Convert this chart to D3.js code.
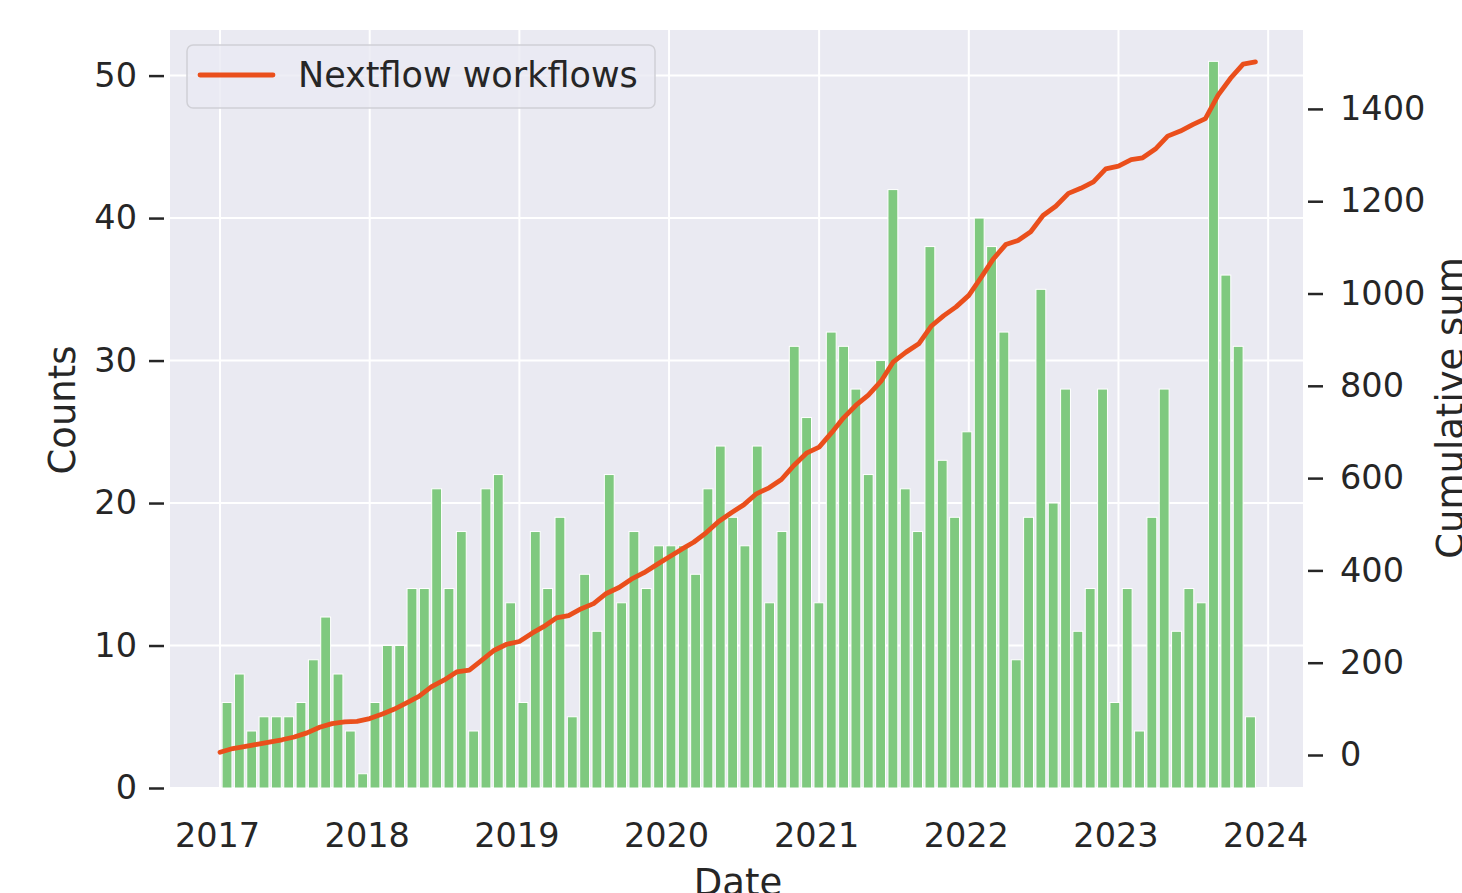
<!DOCTYPE html>
<html lang="en">
<head>
    <meta charset="UTF-8">
    <title>Nextflow workflows per month</title>
    <style>
        body {
            margin: 0;
            padding: 0;
            background-color: #ffffff;
            font-family: "DejaVu Sans", sans-serif;
        }
        .tick text {
            fill: #262626;
            font-size: 33.5px;
        }
        .tick line {
            stroke: #262626;
            stroke-width: 2.5px;
        }
        .axis-label {
            fill: #262626;
            font-size: 37px;
        }
        .grid line {
            stroke: #ffffff;
            stroke-width: 2px;
        }
    </style>
</head>
<body>
    <div id="chart"></div>

    <script src="https://d3js.org/d3.v7.min.js"></script>
    <script>
        // Monthly counts
        const months = [
            "2017-01", "2017-02", "2017-03", "2017-04", "2017-05", "2017-06", "2017-07", "2017-08", "2017-09", "2017-10", "2017-11", "2017-12",
            "2018-01", "2018-02", "2018-03", "2018-04", "2018-05", "2018-06", "2018-07", "2018-08", "2018-09", "2018-10", "2018-11", "2018-12",
            "2019-01", "2019-02", "2019-03", "2019-04", "2019-05", "2019-06", "2019-07", "2019-08", "2019-09", "2019-10", "2019-11", "2019-12",
            "2020-01", "2020-02", "2020-03", "2020-04", "2020-05", "2020-06", "2020-07", "2020-08", "2020-09", "2020-10", "2020-11", "2020-12",
            "2021-01", "2021-02", "2021-03", "2021-04", "2021-05", "2021-06", "2021-07", "2021-08", "2021-09", "2021-10", "2021-11", "2021-12",
            "2022-01", "2022-02", "2022-03", "2022-04", "2022-05", "2022-06", "2022-07", "2022-08", "2022-09", "2022-10", "2022-11", "2022-12",
            "2023-01", "2023-02", "2023-03", "2023-04", "2023-05", "2023-06", "2023-07", "2023-08", "2023-09", "2023-10", "2023-11", "2023-12"
        ];

        const counts = [
            6, 8, 4, 5, 5, 5, 6, 9, 12, 8, 4, 1,
            6, 10, 10, 14, 14, 21, 14, 18, 4, 21, 22, 13,
            6, 18, 14, 19, 5, 15, 11, 22, 13, 18, 14, 17,
            17, 17, 15, 21, 24, 19, 17, 24, 13, 18, 31, 26,
            13, 32, 31, 28, 22, 30, 42, 21, 18, 38, 23, 19,
            25, 40, 38, 32, 9, 19, 35, 20, 28, 11, 14, 28,
            6, 14, 4, 19, 28, 11, 14, 13, 51, 36, 31, 5
        ];

        // Cumulative sum line (right axis)
        const cumulative = [
            6, 14, 18, 23, 28, 33, 39, 48, 60, 68, 72, 73,
            79, 89, 99, 113, 127, 148, 162, 180, 184, 205, 227, 240,
            246, 264, 278, 297, 302, 317, 328, 350, 363, 381, 395, 412,
            429, 446, 461, 482, 506, 525, 542, 566, 579, 597, 628, 654,
            667, 699, 730, 758, 780, 810, 852, 873, 891, 929, 952, 971,
            996, 1036, 1074, 1106, 1115, 1134, 1169, 1189, 1217, 1228, 1242, 1270,
            1276, 1290, 1294, 1313, 1341, 1352, 1366, 1379, 1430, 1466, 1497, 1502
        ];

        const yearTicks = ["2017", "2018", "2019", "2020", "2021", "2022", "2023", "2024"];
        const countTicks = [0, 10, 20, 30, 40, 50];
        const cumTicks = [0, 200, 400, 600, 800, 1000, 1200, 1400];

        const width = 1462;
        const height = 893;
        const plot = { left: 170, right: 1303, top: 30, bottom: 788 };

        const parseMonth = d3.timeParse("%Y-%m");
        const parseDay = d3.timeParse("%Y-%m-%d");
        const parseYear = d3.timeParse("%Y");

        const svg = d3.select("#chart")
            .append("svg")
            .attr("width", width)
            .attr("height", height);

        svg.append("rect")
            .attr("x", plot.left)
            .attr("y", plot.top)
            .attr("width", plot.right - plot.left)
            .attr("height", plot.bottom - plot.top)
            .attr("fill", "#eaeaf2");

        const x = d3.scaleTime()
            .domain([parseDay("2016-09-01"), parseDay("2024-03-26")])
            .range([plot.left, plot.right]);

        const yCount = d3.scaleLinear()
            .domain([0, 53.2])
            .range([plot.bottom, plot.top]);

        const yCum = d3.scaleLinear()
            .domain([-71.5, 1571])
            .range([plot.bottom, plot.top]);

        // histogram bins: equal width between first and last record
        const bin = d3.scaleLinear()
            .domain([0, counts.length])
            .range([parseDay("2017-01-03"), parseDay("2023-12-04")]);
        const binPx = x(bin(1)) - x(bin(0));

        // grid
        const grid = svg.append("g").attr("class", "grid");
        grid.selectAll(".vgrid")
            .data(yearTicks)
            .enter()
            .append("line")
            .attr("x1", d => x(parseYear(d)))
            .attr("x2", d => x(parseYear(d)))
            .attr("y1", plot.top)
            .attr("y2", plot.bottom);
        grid.selectAll(".hgrid")
            .data(countTicks)
            .enter()
            .append("line")
            .attr("x1", plot.left)
            .attr("x2", plot.right)
            .attr("y1", d => yCount(d))
            .attr("y2", d => yCount(d));

        // bars
        svg.append("g")
            .selectAll("rect")
            .data(counts)
            .enter()
            .append("rect")
            .attr("x", (d, i) => x(bin(i + 0.5)) - binPx * 0.4)
            .attr("width", binPx * 0.8)
            .attr("y", d => yCount(d))
            .attr("height", d => yCount(0) - yCount(d))
            .attr("fill", "#7fc97f")
            .attr("stroke", "#ffffff")
            .attr("stroke-width", 1);

        // cumulative line
        const line = d3.line()
            .x((d, i) => x(parseMonth(months[i])))
            .y(d => yCum(d));

        svg.append("path")
            .datum(cumulative)
            .attr("d", line)
            .attr("fill", "none")
            .attr("stroke", "#ea4f1c")
            .attr("stroke-width", 4.8)
            .attr("stroke-linejoin", "round")
            .attr("stroke-linecap", "round");

        // axes
        const leftAxis = svg.append("g")
            .attr("transform", `translate(${plot.left - 6},0)`)
            .call(d3.axisLeft(yCount).tickValues(countTicks).tickSize(15).tickPadding(12));
        leftAxis.select(".domain").remove();

        const rightAxis = svg.append("g")
            .attr("transform", `translate(${plot.right + 5},0)`)
            .call(d3.axisRight(yCum).tickValues(cumTicks).tickFormat(d3.format("d")).tickSize(15).tickPadding(17));
        rightAxis.select(".domain").remove();

        const bottomAxis = svg.append("g")
            .attr("transform", `translate(0,${plot.bottom})`)
            .call(d3.axisBottom(x)
                .tickValues(yearTicks.map(parseYear))
                .tickFormat(d3.timeFormat("%Y"))
                .tickSize(0)
                .tickPadding(35));
        bottomAxis.select(".domain").remove();
        bottomAxis.selectAll(".tick text").attr("dx", "-3");

        svg.selectAll(".tick text").attr("font-family", "DejaVu Sans");

        // axis labels
        svg.append("text")
            .attr("class", "axis-label")
            .attr("transform", "translate(75,410) rotate(-90)")
            .attr("text-anchor", "middle")
            .text("Counts");

        svg.append("text")
            .attr("class", "axis-label")
            .attr("transform", "translate(1463,408) rotate(-90)")
            .attr("text-anchor", "middle")
            .text("Cumulative sum");

        svg.append("text")
            .attr("class", "axis-label")
            .attr("x", 738)
            .attr("y", 895)
            .attr("text-anchor", "middle")
            .text("Date");

        // legend
        const legend = svg.append("g");
        legend.append("rect")
            .attr("x", 187)
            .attr("y", 45)
            .attr("width", 468)
            .attr("height", 63)
            .attr("rx", 6)
            .attr("fill", "#eaeaf2")
            .attr("fill-opacity", 0.8)
            .attr("stroke", "#d0d0d6")
            .attr("stroke-width", 1.5);
        legend.append("line")
            .attr("x1", 200)
            .attr("x2", 273)
            .attr("y1", 75)
            .attr("y2", 75)
            .attr("stroke", "#ea4f1c")
            .attr("stroke-width", 4.8)
            .attr("stroke-linecap", "round");
        legend.append("text")
            .attr("x", 298)
            .attr("y", 75)
            .attr("dy", "0.35em")
            .attr("fill", "#262626")
            .attr("font-size", "35px")
            .text("Nextflow workflows");
    </script>
</body>
</html>
